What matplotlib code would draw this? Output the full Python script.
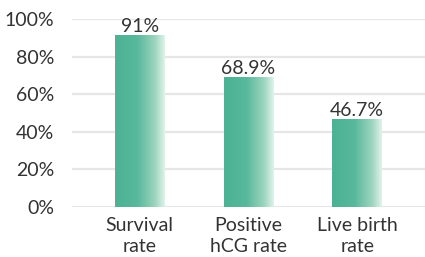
import numpy
import matplotlib
matplotlib.use('Agg')
import matplotlib.pyplot
from matplotlib.colors import LinearSegmentedColormap
from matplotlib.ticker import PercentFormatter

categories = ['Survival\nrate', 'Positive\nhCG rate', 'Live birth\nrate']
values = [91, 68.9, 46.7]
value_labels = ['91%', '68.9%', '46.7%']

matplotlib.pyplot.rcParams['font.family'] = ['Lato', 'DejaVu Sans']

figure = matplotlib.pyplot.figure(figsize=(4.25, 2.57), dpi=100)
axes = figure.add_axes([72/425, 50/257, 353/425, 188/257])

# horizontal fade inside each bar
fade = LinearSegmentedColormap.from_list(
    'fade', [(0, '#4bb294'), (0.45, '#58b89b'), (0.8, '#9dd4bf'), (1, '#e0f3ea')])
gradient = numpy.linspace(0, 1, 256).reshape(1, -1)

width = 0.46
x = numpy.arange(len(categories))
for i, v in enumerate(values):
    axes.imshow(gradient, cmap=fade, aspect='auto', zorder=3,
                extent=(x[i] - width/2, x[i] + width/2, 0, v))
    axes.text(x[i], v + 0.3, value_labels[i], ha='center', va='bottom',
              fontsize=14, color='#333333', zorder=4)

axes.set_xlim(-0.624, 2.624)
axes.set_ylim(0, 100)
axes.set_yticks(range(0, 101, 20))
axes.yaxis.set_major_formatter(PercentFormatter(decimals=0))
axes.set_xticks(x)
axes.set_xticklabels(categories, fontsize=14, color='#333333', linespacing=1.3)
axes.tick_params(axis='y', labelsize=14, labelcolor='#333333', length=0, pad=13)
axes.tick_params(axis='x', length=0, pad=7)
axes.grid(axis='y', color='#e6e6e6', linewidth=1.6, zorder=0)
axes.set_axisbelow(True)
for side in axes.spines.values():
    side.set_visible(False)

matplotlib.pyplot.savefig('out.png', dpi=100)
